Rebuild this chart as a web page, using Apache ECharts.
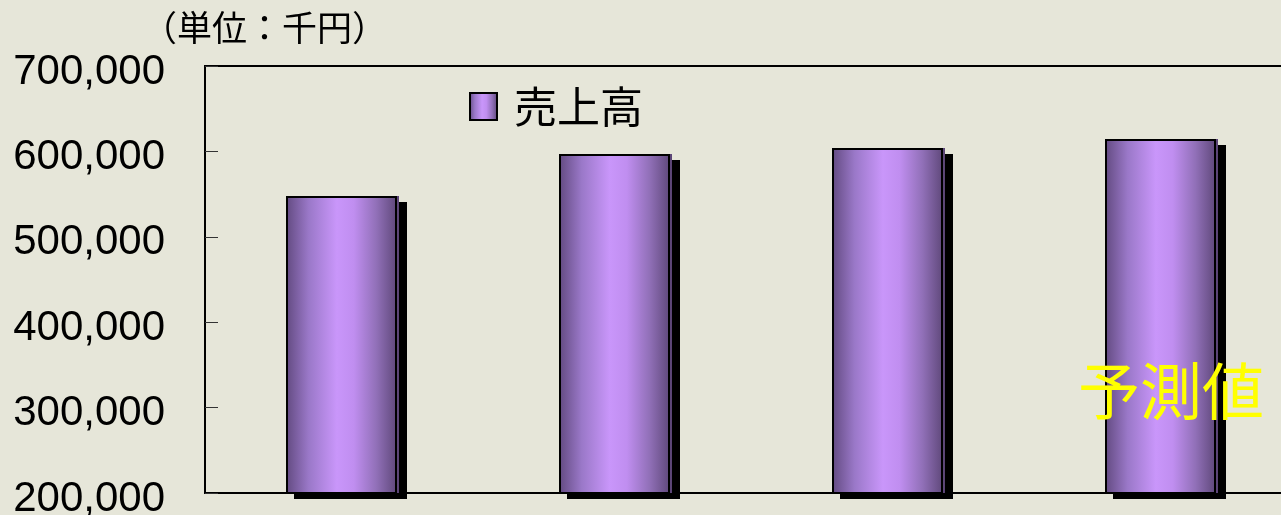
<!DOCTYPE html>
<html>
<head>
<meta charset="utf-8">
<script src="https://cdn.jsdelivr.net/npm/echarts@6/dist/echarts.min.js"></script>
<style>
html,body{margin:0;padding:0;background:#e6e6d9;}
#chart{width:1281px;height:515px;}
</style>
</head>
<body>
<div id="chart"></div>
<script>
var categories = ['第1期', '第2期', '第3期', '第4期'];
var salesValues = [547800, 597000, 604000, 614500];
var yTicks = [200000, 300000, 400000, 500000, 600000, 700000];
var seriesName = '売上高';
var unitLabel = '（単位：千円）';
var forecastLabel = '予測値';

var chart = echarts.init(document.getElementById('chart'), null, {renderer: 'canvas'});
var barGradient = new echarts.graphic.LinearGradient(0, 0, 1, 0, [
  {offset: 0, color: '#624a80'},
  {offset: 0.2, color: '#9a78c8'},
  {offset: 0.45, color: '#c996fa'},
  {offset: 0.6, color: '#c08ef0'},
  {offset: 0.8, color: '#9170b8'},
  {offset: 1, color: '#5a4474'}
]);
chart.setOption({
  backgroundColor: '#e6e6d9',
  animation: false,
  grid: {left: 205, top: 66, width: 1092, height: 427, outerBoundsMode: 'none', containLabel: false,
    show: true, borderColor: '#000', borderWidth: 2, backgroundColor: 'transparent'},
  legend: {
    left: 464, top: 80,
    icon: 'rect', itemWidth: 27, itemHeight: 27,
    itemStyle: {borderColor: '#000', borderWidth: 2, shadowBlur: 0, shadowOffsetX: 0, shadowOffsetY: 0, shadowColor: 'rgba(0,0,0,0)'},
    textStyle: {fontFamily: 'Noto Sans CJK JP', fontSize: 43, color: '#000', padding: [0, 0, 0, 12]},
    data: [seriesName]
  },
  xAxis: {
    type: 'category', data: categories,
    axisLine: {lineStyle: {color: '#000', width: 2}},
    axisTick: {show: false}, axisLabel: {show: false}, splitLine: {show: false}
  },
  yAxis: {
    type: 'value', min: yTicks[0], max: yTicks[yTicks.length - 1], interval: 100000,
    axisLine: {show: true, lineStyle: {color: '#000', width: 2}},
    axisTick: {show: true, inside: true, length: 13, lineStyle: {color: '#333', width: 1}},
    splitLine: {show: false},
    axisLabel: {
      margin: 40, color: '#000',
      formatter: function (v) { return '{v|' + v.toLocaleString('en-US') + '}'; },
      rich: {v: {fontFamily: 'Liberation Sans', fontSize: 42, color: '#000', padding: [12, 0, 0, 0]}}
    }
  },
  series: [{
    name: seriesName, type: 'bar', data: salesValues, barWidth: 113,
    itemStyle: {color: barGradient, borderWidth: 0, shadowColor: '#000', shadowBlur: 0, shadowOffsetX: 8, shadowOffsetY: 6}
  }, {
    name: 'outline', type: 'bar', data: salesValues, barWidth: 111, barGap: '-100%', silent: true, z: 3,
    itemStyle: {color: 'rgba(0,0,0,0)', borderColor: '#000', borderWidth: 2}
  }],
  graphic: [
    {type: 'text', left: 142, top: 10, style: {text: unitLabel, fontFamily: 'Noto Sans CJK JP', fontSize: 35, fill: '#000'}},
    {type: 'text', left: 1078, top: 360, z: 100, style: {text: forecastLabel, fontFamily: 'Noto Sans CJK JP', fontSize: 62, fill: '#ffff00'}}
  ]
});
</script>
</body>
</html>
